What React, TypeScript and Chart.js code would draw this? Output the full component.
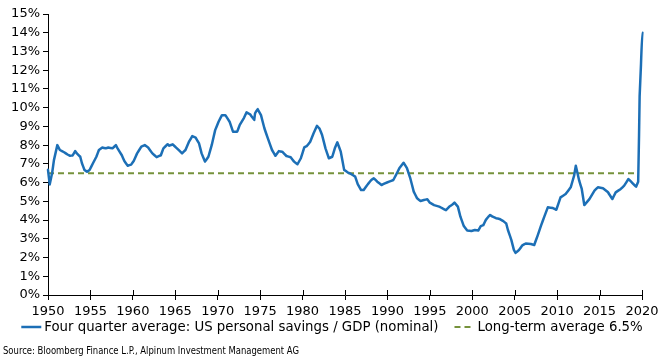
import React, { useEffect, useRef } from 'react';
import { Chart, registerables } from 'chart.js';

Chart.register(...registerables);

const years = [
  1950.0, 1950.2, 1950.5, 1950.7, 1951.1, 1951.4, 1951.9, 1952.3, 1952.6, 1952.9,
  1953.2, 1953.4, 1953.8, 1954.0, 1954.3, 1954.6, 1954.9, 1955.3, 1955.7, 1956.0,
  1956.4, 1956.8, 1957.1, 1957.6, 1958.0, 1958.2, 1958.7, 1959.0, 1959.4, 1959.8,
  1960.1, 1960.5, 1961.0, 1961.4, 1961.8, 1962.3, 1962.8, 1963.3, 1963.6, 1964.1,
  1964.3, 1964.7, 1965.1, 1965.8, 1966.2, 1966.6, 1967.0, 1967.4, 1967.8, 1968.1,
  1968.5, 1968.9, 1969.3, 1969.7, 1970.1, 1970.5, 1970.9, 1971.4, 1971.8, 1972.3,
  1972.6, 1973.1, 1973.4, 1973.8, 1974.3, 1974.4, 1974.7, 1975.1, 1975.5, 1975.9,
  1976.4, 1976.8, 1977.2, 1977.6, 1978.1, 1978.6, 1979.0, 1979.4, 1979.8, 1980.2,
  1980.5, 1980.9, 1981.3, 1981.7, 1982.0, 1982.3, 1982.7, 1983.1, 1983.5, 1983.8,
  1984.1, 1984.5, 1984.9, 1985.3, 1985.7, 1986.2, 1986.5, 1986.9, 1987.2, 1987.7,
  1988.1, 1988.4, 1988.8, 1989.3, 1989.7, 1990.2, 1990.7, 1991.0, 1991.4, 1991.9,
  1992.3, 1992.7, 1993.1, 1993.5, 1993.9, 1994.3, 1994.7, 1995.0, 1995.5, 1996.1,
  1996.5, 1996.9, 1997.3, 1997.7, 1997.9, 1998.3, 1998.6, 1999.0, 1999.4, 1999.9,
  2000.3, 2000.7, 2001.0, 2001.3, 2001.6, 2001.9, 2002.1, 2002.4, 2002.8, 2003.2,
  2003.6, 2004.0, 2004.2, 2004.6, 2004.9, 2005.1, 2005.5, 2005.9, 2006.3, 2006.9,
  2007.3, 2007.7, 2008.1, 2008.5, 2008.9, 2009.5, 2009.9, 2010.4, 2011.0, 2011.6,
  2012.0, 2012.2, 2012.6, 2012.9, 2013.2, 2013.8, 2014.4, 2014.8, 2015.4, 2016.0,
  2016.5, 2016.9, 2017.5, 2017.9, 2018.4, 2018.8, 2019.3, 2019.55, 2019.65, 2019.72,
  2019.88, 2020.05,
];

const savings = [
  6.68, 5.9, 6.55, 7.2, 8.0, 7.74, 7.62, 7.5, 7.43, 7.45,
  7.68, 7.56, 7.38, 7.03, 6.67, 6.58, 6.67, 7.03, 7.38, 7.74,
  7.87, 7.83, 7.87, 7.83, 8.0, 7.83, 7.46, 7.15, 6.9, 6.96,
  7.15, 7.56, 7.92, 8.0, 7.87, 7.56, 7.36, 7.46, 7.83, 8.05,
  7.97, 8.04, 7.87, 7.56, 7.74, 8.17, 8.48, 8.4, 8.09, 7.56,
  7.12, 7.38, 8.01, 8.8, 9.25, 9.6, 9.6, 9.25, 8.72, 8.72,
  9.08, 9.46, 9.75, 9.65, 9.34, 9.7, 9.93, 9.6, 8.9, 8.37,
  7.74, 7.43, 7.68, 7.65, 7.42, 7.35, 7.12, 6.98, 7.3, 7.88,
  7.95, 8.18, 8.63, 9.03, 8.88, 8.54, 7.83, 7.3, 7.38, 7.83,
  8.15, 7.65, 6.68, 6.55, 6.46, 6.32, 5.92, 5.6, 5.6, 5.92,
  6.14, 6.23, 6.05, 5.87, 5.96, 6.05, 6.14, 6.4, 6.76, 7.06,
  6.77, 6.22, 5.52, 5.16, 5.02, 5.07, 5.11, 4.93, 4.8, 4.72,
  4.62, 4.53, 4.72, 4.84, 4.93, 4.72, 4.18, 3.68, 3.44, 3.42,
  3.47, 3.44, 3.68, 3.73, 4.01, 4.18, 4.27, 4.18, 4.1, 4.06,
  3.96, 3.82, 3.47, 2.94, 2.41, 2.25, 2.4, 2.65, 2.75, 2.72,
  2.67, 3.17, 3.7, 4.2, 4.68, 4.64, 4.55, 5.21, 5.39, 5.75,
  6.37, 6.9, 6.1, 5.66, 4.8, 5.12, 5.57, 5.75, 5.7, 5.48,
  5.12, 5.48, 5.66, 5.84, 6.19, 6.01, 5.78, 6.05, 8.5, 10.6,
  12.3, 14.0,
];

const avgYears = [1950, 2019.6];
const avgValues = [6.5, 6.5];

const seriesLabels = [
  'Four quarter average: US personal savings / GDP (nominal)',
  'Long-term average 6.5%',
];
const sourceText = 'Source: Bloomberg Finance L.P., Alpinum Investment Management AG';

const xMin = 1950;
const xMax = 2020;
const xStep = 5;
const yMin = 0;
const yMax = 15;
const yStep = 1;

const FONT = '"DejaVu Sans", Verdana, sans-serif';

const innerTicksPlugin = {
  id: 'innerTicks',
  afterDraw(chart: any) {
    const xs = chart.scales.x;
    const ctx = chart.ctx;
    const bottom = chart.chartArea.bottom;
    ctx.save();
    ctx.strokeStyle = '#000';
    ctx.lineWidth = 1;
    xs.ticks.forEach((t: any) => {
      const px = Math.round(xs.getPixelForValue(t.value)) + 0.5;
      ctx.beginPath();
      ctx.moveTo(px, bottom - 5);
      ctx.lineTo(px, bottom);
      ctx.stroke();
    });
    ctx.restore();
  },
};

const legendSourcePlugin = {
  id: 'legendSource',
  afterDraw(chart: any) {
    const ctx = chart.ctx;
    const ds = chart.data.datasets;
    ctx.save();
    ctx.font = '13.3px ' + FONT;
    ctx.textBaseline = 'middle';
    ctx.fillStyle = '#000';
    const lineLen = 20;
    const gapText = 3;
    const gapItems = 16;
    const widths = ds.map((d: any) => ctx.measureText(d.label).width);
    let total = 0;
    widths.forEach((w: number, i: number) => {
      total += lineLen + gapText + w + (i < widths.length - 1 ? gapItems : 0);
    });
    let x = (chart.width - total) / 2;
    const y = 327;
    ds.forEach((d: any, i: number) => {
      ctx.save();
      ctx.strokeStyle = d.borderColor;
      ctx.lineWidth = d.borderWidth;
      ctx.setLineDash(d.borderDash || []);
      ctx.beginPath();
      ctx.moveTo(x, y);
      ctx.lineTo(x + lineLen, y);
      ctx.stroke();
      ctx.restore();
      ctx.fillText(d.label, x + lineLen + gapText, y + 1);
      x += lineLen + gapText + widths[i] + gapItems;
    });
    ctx.font = '10px "Liberation Sans Narrow", "DejaVu Sans Condensed", sans-serif';
    ctx.textBaseline = 'middle';
    const sw = ctx.measureText(sourceText).width;
    const target = 296;
    ctx.translate(3, 351);
    ctx.scale(Math.min(1, target / sw), 1);
    ctx.fillText(sourceText, 0, 0);
    ctx.restore();
  },
};

export default function App() {
  const ref = useRef<HTMLCanvasElement>(null);
  useEffect(() => {
    document.body.style.margin = '0';
    const canvas = ref.current;
    if (!canvas) return;
    const chart = new Chart(canvas, {
      type: 'line',
      data: {
        datasets: [
          {
            label: seriesLabels[0],
            data: years.map((yr, i) => ({ x: yr, y: savings[i] })),
            borderColor: '#1C6FB6',
            borderWidth: 2.5,
            borderJoinStyle: 'round',
            borderCapStyle: 'round',
            pointRadius: 0,
            tension: 0.001,
            fill: false,
            clip: false as any,
          },
          {
            label: seriesLabels[1],
            data: avgYears.map((yr, i) => ({ x: yr, y: avgValues[i] })),
            borderColor: '#76923C',
            borderWidth: 2,
            borderDash: [6, 4],
            pointRadius: 0,
            tension: 0,
            fill: false,
          },
        ],
      },
      options: {
        animation: false,
        responsive: false,
        maintainAspectRatio: false,
        layout: { padding: { left: 0, right: 22, top: 14, bottom: 40 } },
        plugins: {
          legend: { display: false },
          tooltip: { enabled: false },
        },
        scales: {
          x: {
            type: 'linear',
            min: xMin,
            max: xMax,
            afterFit: (s: any) => {
              s.height = 25;
            },
            ticks: {
              stepSize: xStep,
              color: '#000',
              font: { family: FONT, size: 13 },
              padding: 4,
              maxRotation: 0,
              autoSkip: false,
              callback: (v: any) => String(v),
            },
            grid: {
              drawOnChartArea: false,
              drawTicks: true,
              tickLength: 5,
              color: '#000',
            },
            border: { color: '#000', width: 1 },
          },
          y: {
            min: yMin,
            max: yMax,
            afterFit: (s: any) => {
              s.width = 48;
            },
            ticks: {
              stepSize: yStep,
              color: '#000',
              font: { family: FONT, size: 13 },
              padding: 3,
              callback: (v: any) => v + '%',
            },
            grid: {
              drawOnChartArea: false,
              drawTicks: true,
              tickLength: 5,
              color: '#000',
            },
            border: { color: '#000', width: 1 },
          },
        },
      },
      plugins: [innerTicksPlugin, legendSourcePlugin],
    });
    return () => chart.destroy();
  }, []);
  return (
    <div style={{ position: 'absolute', left: 0, top: 0, width: 664, height: 360 }}>
      <canvas ref={ref} width={664} height={360} style={{ width: 664, height: 360 }} />
    </div>
  );
}
